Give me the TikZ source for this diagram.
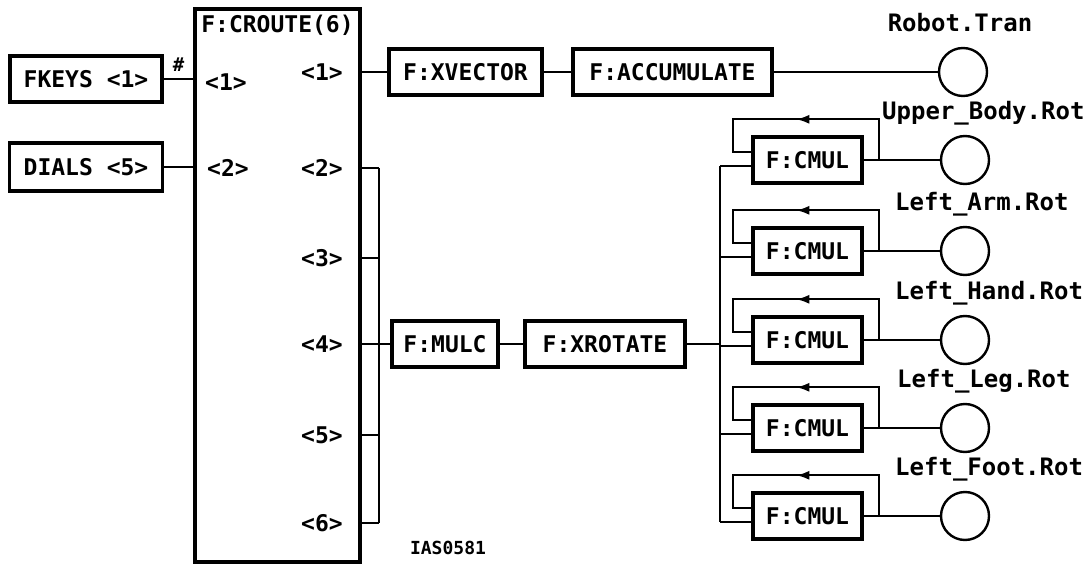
\documentclass[tikz,border=0pt]{standalone}
\usepackage{fontspec}
\setmainfont{DejaVu Sans Mono}
\usepackage{tikz}
\usetikzlibrary{positioning,calc,arrows.meta,decorations.markings}
\tikzset{
    block/.style={rectangle, draw, line width=3.4pt, minimum height=46, inner sep=0pt, font=\fontsize{23}{26}\selectfont\bfseries},
    sink/.style={circle, draw, line width=2.4pt, minimum size=48, inner sep=0pt},
    wire/.style={line width=2.2pt},
    port/.style={font=\fontsize{23}{26}\selectfont\bfseries, inner sep=0pt},
    outname/.style={font=\fontsize{24}{28}\selectfont\bfseries, anchor=west, inner sep=0pt},
    loopback/.style={wire, postaction={decorate}, decoration={markings, mark=at position 0.52 with {\arrow{Latex[length=13pt,width=9pt]}}}},
}
\begin{document}
\begin{tikzpicture}[x=1pt, y=-1pt]
    \useasboundingbox (0,0) rectangle (1092,564);

    % Inputs and router
    \node[block, minimum width=152] (fkeys) at (86,79) {FKEYS <1>};
    \node[block, minimum width=153, minimum height=48] (dials) at (86,167) {DIALS <5>};
    \node[block, minimum width=165, minimum height=553] (croute) at (277.5,285.5) {};
    \node[port, below=8pt of croute.north] (title) {F:CROUTE(6)};

    % Router ports
    \node[port] (pin1) at (226,82) {<1>};
    \node[port] (pin2) at (228,168) {<2>};
    \foreach \n/\y in {1/72, 2/168, 3/258, 4/344, 5/435, 6/523}
        \node[port] (out\n) at (322,\y) {<\n>};

    \draw[wire] (fkeys) -- (fkeys -| croute.west)
        node[midway, above=3pt, font=\fontsize{19}{21}\selectfont\bfseries] (hash) {\#};
    \draw[wire] (dials) -- (dials -| croute.west);

    % Translation chain
    \node[block, minimum width=153] (xvec) at (465.5,72) {F:XVECTOR};
    \node[block, minimum width=199] (accum) at (672.5,72) {F:ACCUMULATE};
    \node[sink] (tran) at (963,72) {};
    \node[outname, anchor=center] (trann) at (960,23) {Robot.Tran};
    \draw[wire] (croute.east |- out1) -- (xvec);
    \draw[wire] (xvec) -- (accum);
    \draw[wire] (accum) -- (tran);

    % Rotation chain
    \coordinate (busT) at (379,168);
    \coordinate (busB) at (379,523);
    \draw[wire] (busT) -- (busB);
    \foreach \n in {2,...,6}
        \draw[wire] (croute.east |- out\n) -- (busT |- out\n);
    \node[block, minimum width=106] (mulc) at (445,344) {F:MULC};
    \node[block, minimum width=160] (xrot) at (605,344) {F:XROTATE};
    \draw[wire] (busT |- mulc) -- (mulc);
    \draw[wire] (mulc) -- (xrot);

    % Per-joint multipliers
    \coordinate (fan) at (720,0);
    \foreach \i/\y/\lx/\lab in {1/160/882/Upper\_Body.Rot, 2/251/895/Left\_Arm.Rot,
            3/340/895/Left\_Hand.Rot, 4/428/897/Left\_Leg.Rot, 5/516/895/Left\_Foot.Rot}{
        \node[block, minimum width=109] (cm\i) at (807.5,\y) {F:CMUL};
        \node[sink] (rot\i) at (965,\y) {};
        \node[outname] (rotn\i) at (\lx,\y-47) {\lab};
        \coordinate (feed\i) at ([yshift=-6pt]cm\i.west);
        \draw[wire] (cm\i) -- (rot\i);
        \draw[loopback] ([xshift=15pt]cm\i.east) |- ([xshift=-18pt,yshift=16pt]cm\i.north west) |- ([yshift=8pt]cm\i.west);
        \draw[wire] (feed\i) -- (feed\i -| fan);
    }
    \draw[wire] (fan |- feed1) -- (fan |- feed5);
    \draw[wire] (xrot) -- (xrot -| fan);

    % Figure id
    \node[font=\fontsize{18}{20}\selectfont\bfseries] (figid) at (448,548) {IAS0581};
\end{tikzpicture}
\end{document}
